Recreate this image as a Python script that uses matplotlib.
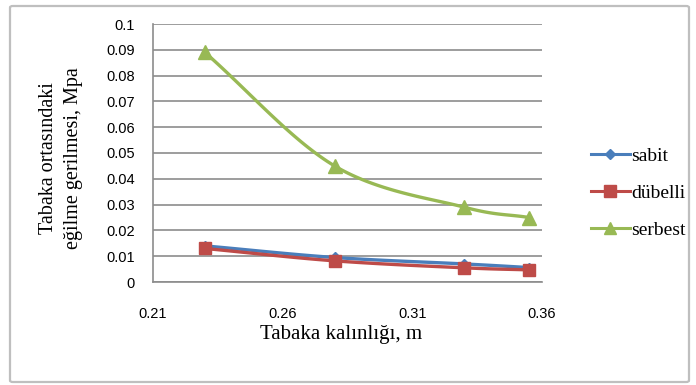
import matplotlib.pyplot as plt
import numpy as np
from matplotlib.patches import FancyBboxPatch
from matplotlib.lines import Line2D

# layer thickness (m) and bending stress at mid-slab (MPa)
thickness = [0.23, 0.28, 0.33, 0.355]
sabit = [0.014, 0.0095, 0.007, 0.0056]
dubelli = [0.013, 0.0082, 0.0055, 0.0047]
serbest = [0.089, 0.045, 0.029, 0.025]

names = ['sabit', 'dübelli', 'serbest']
colors = ['#4A7EBB', '#BE4B48', '#98B954']
markers = ['D', 's', '^']
msizes = [5.5, 9, 9.5]

x_ticks = [0.21, 0.26, 0.31, 0.36]
y_ticks = [0, 0.01, 0.02, 0.03, 0.04, 0.05, 0.06, 0.07, 0.08, 0.09, 0.1]
y_labels = ['0', '0.01', '0.02', '0.03', '0.04', '0.05', '0.06', '0.07', '0.08', '0.09', '0.1']


def smooth(xs, ys, n=40):
    # Catmull-Rom spline through the points, like a "smoothed line" chart
    p = np.column_stack([xs, ys]).astype(float)
    p = np.vstack([2 * p[0] - p[1], p, 2 * p[-1] - p[-2]])
    out = []
    t = np.linspace(0, 1, n)[:, None]
    for i in range(1, len(p) - 2):
        p0, p1, p2, p3 = p[i - 1], p[i], p[i + 1], p[i + 2]
        seg = 0.5 * ((2 * p1) + (-p0 + p2) * t + (2 * p0 - 5 * p1 + 4 * p2 - p3) * t ** 2
                     + (-p0 + 3 * p1 - 3 * p2 + p3) * t ** 3)
        out.append(seg if i == 1 else seg[1:])
    out = np.vstack(out)
    return out[:, 0], out[:, 1]


fig = plt.figure(figsize=(6.96, 3.85), dpi=100)
fig.patch.set_facecolor('white')

# outer chart frame
frame = FancyBboxPatch((10 / 696, 3 / 385), 679 / 696, 376 / 385,
                       boxstyle='round,pad=0,rounding_size=0.004',
                       transform=fig.transFigure, facecolor='none',
                       edgecolor='#BFBFBF', linewidth=1.6)
fig.patches.append(frame)

ax = fig.add_axes([153 / 696, 1 - 282 / 385, 389 / 696, 258 / 385])

for ys, c, m, ms in zip([sabit, dubelli, serbest], colors, markers, msizes):
    sx, sy = smooth(thickness, ys)
    ax.plot(sx, sy, color=c, linewidth=2.4, solid_capstyle='round', zorder=3)
    ax.plot(thickness, ys, linestyle='none', marker=m, markersize=ms,
            color=c, zorder=4)

ax.set_xlim(0.21, 0.36)
ax.set_ylim(0, 0.1)
ax.set_xticks(x_ticks)
ax.set_xticklabels([f'{v:.2f}' for v in x_ticks])
ax.set_yticks(y_ticks)
ax.set_yticklabels(y_labels)
ax.yaxis.grid(True, color='#8C8C8C', linewidth=1.2)
ax.set_axisbelow(True)

for s in ['top', 'right']:
    ax.spines[s].set_visible(False)
for s in ['left', 'bottom']:
    ax.spines[s].set_color('#8C8C8C')
    ax.spines[s].set_linewidth(1.2)

ax.tick_params(axis='both', length=0, labelsize=10.5)
ax.tick_params(axis='x', pad=18)
ax.tick_params(axis='y', pad=13)
for lab in ax.get_xticklabels() + ax.get_yticklabels():
    lab.set_fontfamily('Liberation Sans')

fig.text(341 / 696, 1 - 334 / 385, 'Tabaka kalınlığı, m', ha='center', va='center',
         fontfamily='Liberation Serif', fontsize=15)
fig.text(61 / 696, 1 - 158 / 385, 'Tabaka ortasındaki\neğilme gerilmesi, Mpa',
         ha='center', va='center', rotation=90, multialignment='center',
         fontfamily='Liberation Serif', fontsize=14.5, linespacing=1.45)

handles = [Line2D([0], [0], color=c, marker=m, markersize=ms * 0.9, linewidth=2.2)
           for c, m, ms in zip(colors, markers, msizes)]
fig.legend(handles, names, loc='center left', bbox_to_anchor=(577 / 696, 1 - 193 / 385),
           frameon=False, prop={'family': 'Liberation Serif', 'size': 14},
           handlelength=2.0, handletextpad=0.1, labelspacing=1.0,
           borderpad=0.2)

fig.savefig('out.png', dpi=100)
